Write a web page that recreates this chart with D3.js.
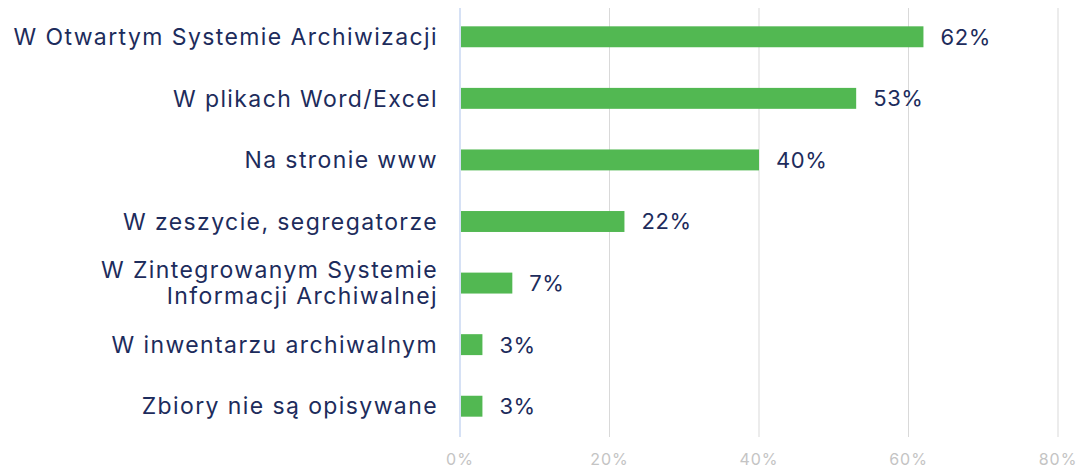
<!DOCTYPE html>
<html>
<head>
<meta charset="utf-8">
<script src="https://cdn.jsdelivr.net/npm/d3@7"></script>
<style>
  body { margin: 0; background: #fff; }
  svg text { font-family: "Inter", "Noto Sans", sans-serif; }
</style>
</head>
<body>
<div class="chart"></div>
<script>
/* data */
const categories = [
    ['W Otwartym Systemie Archiwizacji'],
    ['W plikach Word/Excel'],
    ['Na stronie www'],
    ['W zeszycie, segregatorze'],
    ['W Zintegrowanym Systemie', 'Informacji Archiwalnej'],
    ['W inwentarzu archiwalnym'],
    ['Zbiory nie są opisywane']
]
const values = [62, 53, 40, 22, 7, 3, 3]
const ticks = [0, 20, 40, 60, 80]

const width = 1083
const height = 469
const margin = { top: 6, right: 25, bottom: 32, left: 460 }

const svg = d3.select('.chart')
    .append('svg')
    .attr('width', width)
    .attr('height', height)

const x = d3.scaleLinear()
    .domain([0, 80])
    .range([margin.left, width - margin.right])

const y = d3.scaleBand()
    .domain(d3.range(values.length))
    .range([margin.top, height - margin.bottom])
    .paddingInner(0.66)
    .paddingOuter(0.33)

// grid lines
svg.append('g')
    .selectAll('line')
    .data(ticks.slice(1))
    .join('line')
    .attr('x1', d => x(d))
    .attr('x2', d => x(d))
    .attr('y1', margin.top + 2)
    .attr('y2', height - margin.bottom)
    .attr('stroke', '#d9d9d9')
    .attr('stroke-width', 1)

// zero line
svg.append('line')
    .attr('x1', x(0))
    .attr('x2', x(0))
    .attr('y1', margin.top + 2)
    .attr('y2', height - margin.bottom)
    .attr('stroke', '#c9d7f2')
    .attr('stroke-width', 1.5)

// tick labels
svg.append('g')
    .selectAll('text')
    .data(ticks)
    .join('text')
    .attr('x', d => x(d))
    .attr('y', height - 4)
    .attr('text-anchor', 'middle')
    .attr('font-size', 16)
    .attr('letter-spacing', 1)
    .attr('fill', '#c4c4c4')
    .text(d => d + '%')

// bars
svg.append('g')
    .selectAll('rect')
    .data(values)
    .join('rect')
    .attr('x', x(0) + 1)
    .attr('y', (d, i) => y(i))
    .attr('width', d => x(d) - x(0) - 1)
    .attr('height', y.bandwidth())
    .attr('fill', '#52b852')

// value labels
svg.append('g')
    .selectAll('text')
    .data(values)
    .join('text')
    .attr('x', d => x(d) + 17)
    .attr('y', (d, i) => y(i) + y.bandwidth() / 2)
    .attr('dy', '0.36em')
    .attr('font-size', 22)
    .attr('letter-spacing', 0.6)
    .attr('fill', '#1d2c5c')
    .text(d => d + '%')

// category labels
const lineH = 26
svg.append('g')
    .selectAll('text')
    .data(categories)
    .join('text')
    .attr('x', margin.left - 22)
    .attr('y', (d, i) => y(i) + y.bandwidth() / 2)
    .attr('text-anchor', 'end')
    .attr('font-size', 23)
    .attr('letter-spacing', 1.4)
    .attr('fill', '#1d2c5c')
    .each(function (lines) {
        d3.select(this).selectAll('tspan')
            .data(lines)
            .join('tspan')
            .attr('x', margin.left - 22)
            .attr('dy', (l, j) => j === 0 ? (0.36 - (lines.length - 1) * 0.57) + 'em' : lineH)
            .text(l => l)
    })
</script>
</body>
</html>
